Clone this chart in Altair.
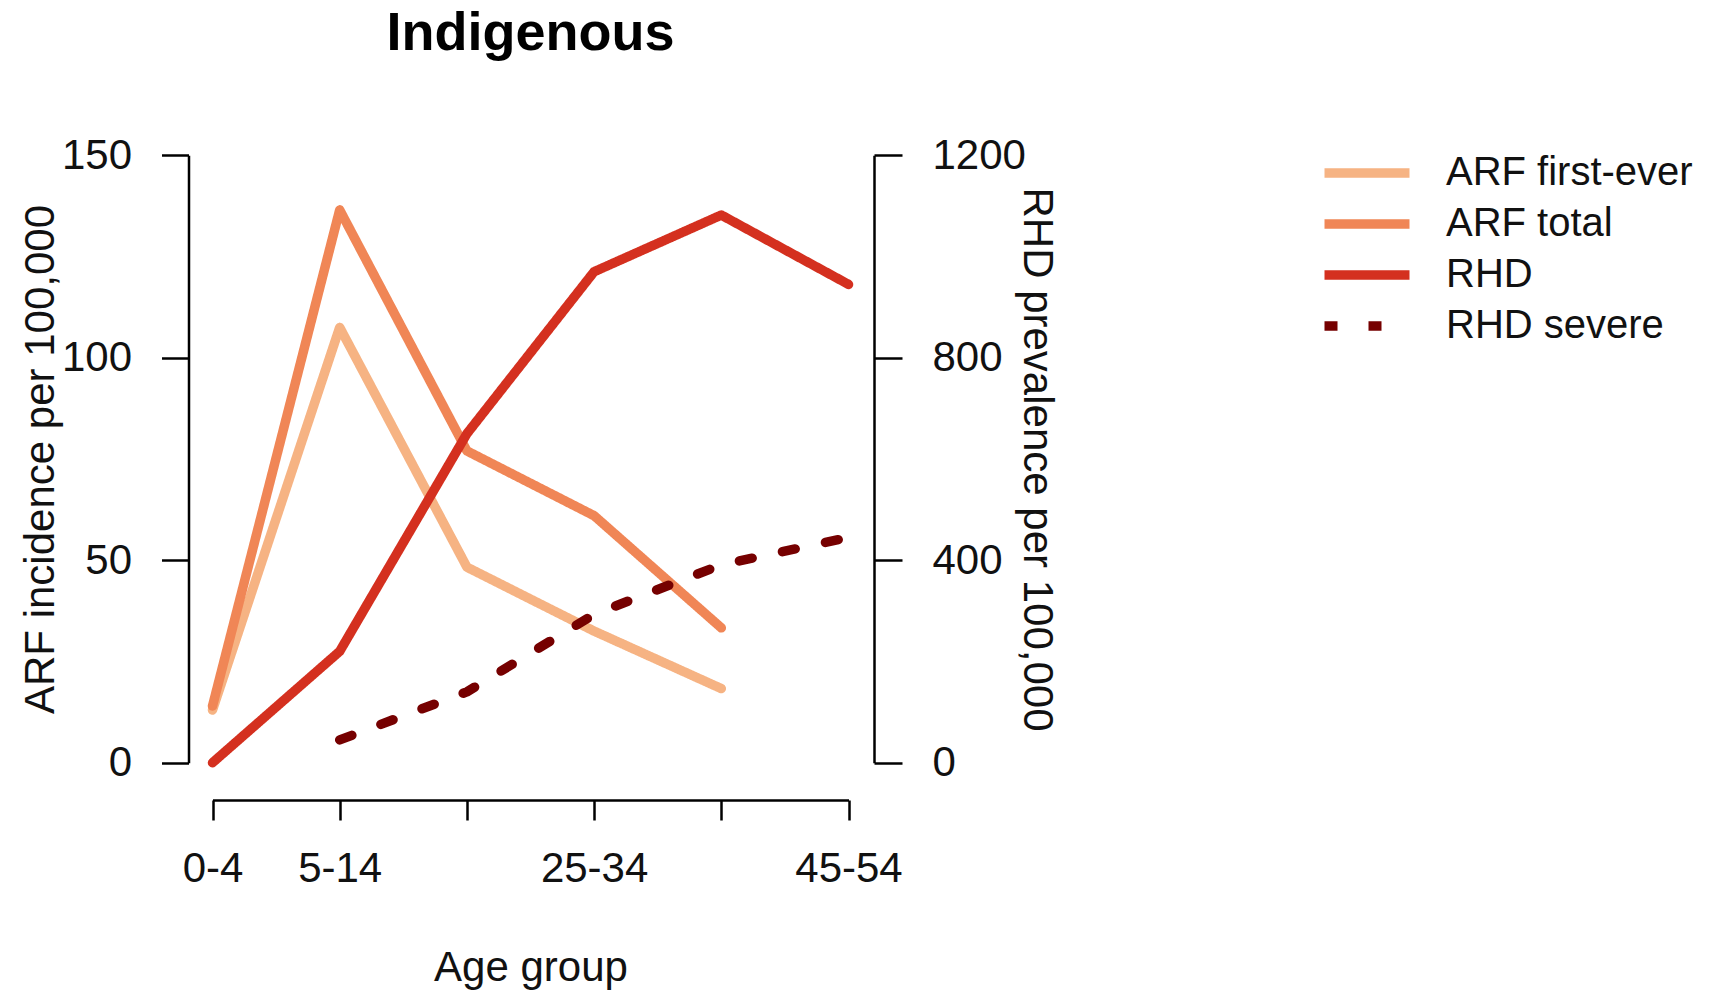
import json
import altair as alt
import pandas as pd

# ---- data ----
age_groups = ["0-4", "5-14", "15-24", "25-34", "35-44", "45-54"]
tick_labels = ["0-4", "5-14", "", "25-34", "", "45-54"]
arf_first_ever = [13, 107.5, 48.3, 32.5, 18.3, None]
arf_total = [14, 136.5, 77, 61, 33.3, None]
rhd = [0, 220, 650, 970, 1082, 945]
rhd_severe = [None, 45, 140, 293, 391, 445]

series_names = ["ARF first-ever", "ARF total", "RHD", "RHD severe"]
series_colors = ["#F6B383", "#F08656", "#D4301F", "#760000"]
series_dash = [[1, 0], [1, 0], [1, 0], [13, 31]]

left_ticks = [0, 50, 100, 150]
right_ticks = [0, 400, 800, 1200]

rows = []
for name, vals in zip(series_names, [arf_first_ever, arf_total, rhd, rhd_severe]):
    for i, (age, v) in enumerate(zip(age_groups, vals)):
        rows.append({"idx": i + 1, "age": age, "series": name, "value": v})
df = pd.DataFrame(rows)
left_df = df[df["series"].isin(series_names[:2])]
right_df = df[df["series"].isin(series_names[2:])]

FONT = "Liberation Sans"
W, H = 687, 656
X_RANGE = [25.5, 661.5]
Y_RANGE = [631.7, 24.3]
LW = 9.5

x_axis = alt.Axis(
    values=list(range(1, len(age_groups) + 1)),
    labelExpr=f"{json.dumps(tick_labels)}[datum.value - 1]",
    title="Age group",
    titlePadding=58,
    labelPadding=28,
    tickSize=20,
    offset=13,
    labelFlush=False,
    labelOverlap=False,
    grid=False,
)
x_enc = alt.X("idx:Q", scale=alt.Scale(domain=[1, len(age_groups)], range=X_RANGE), axis=x_axis)

color_enc = alt.Color(
    "series:N",
    scale=alt.Scale(domain=series_names, range=series_colors),
    legend=alt.Legend(
        title=None,
        orient="none",
        legendX=1150,
        legendY=12,
        symbolType="M-1.7,0H1.7",
        symbolSize=2500,
        symbolStrokeWidth=LW,
        labelFontSize=40,
        labelFont=FONT,
        labelColor="#111111",
        labelOffset=49,
        labelLimit=500,
        rowPadding=1,
        padding=0,
    ),
)
dash_enc = alt.StrokeDash(
    "series:N",
    scale=alt.Scale(domain=series_names, range=series_dash),
    legend=alt.Legend(title=None),
)

line_mark = dict(strokeWidth=LW, strokeCap="round", strokeJoin="round")

left = alt.Chart(left_df).mark_line(**line_mark).encode(
    x=x_enc,
    y=alt.Y(
        "value:Q",
        scale=alt.Scale(domain=[0, 150], range=Y_RANGE, nice=False, zero=False),
        axis=alt.Axis(
            values=left_ticks,
            format="d",
            orient="left",
            title="ARF incidence per 100,000",
            titlePadding=-1,
            labelPadding=30,
            tickSize=27,
            offset=-1.5,
            grid=False,
            labelFlush=False,
        ),
    ),
    color=color_enc,
    strokeDash=dash_enc,
    order=alt.Order("idx:Q"),
)

right = alt.Chart(right_df).mark_line(**line_mark).encode(
    x=x_enc,
    y=alt.Y(
        "value:Q",
        scale=alt.Scale(domain=[0, 1200], range=Y_RANGE, nice=False, zero=False),
        axis=alt.Axis(
            values=right_ticks,
            format="d",
            orient="right",
            title="RHD prevalence per 100,000",
            titlePadding=-11,
            labelPadding=30,
            tickSize=28,
            grid=False,
            labelFlush=False,
        ),
    ),
    color=color_enc,
    strokeDash=dash_enc,
    order=alt.Order("idx:Q"),
)

chart = (
    alt.layer(left, right)
    .resolve_scale(y="independent")
    .properties(
        width=W,
        height=H,
        background="white",
        autosize=alt.AutoSizeParams(type="none"),
        padding={"left": 187, "top": 131, "right": 1723 - 187 - W, "bottom": 992 - 131 - H},
        title=alt.TitleParams(
            "Indigenous",
            font=FONT,
            fontSize=54,
            fontWeight="bold",
            color="#000000",
            anchor="middle",
            frame="group",
            offset=70,
        ),
    )
    .configure_view(stroke="transparent", strokeWidth=0)
    .configure_axis(
        labelFont=FONT,
        labelFontSize=42,
        labelColor="#111111",
        titleFont=FONT,
        titleFontSize=42,
        titleFontWeight="normal",
        titleColor="#111111",
        domainColor="#000000",
        domainWidth=2.5,
        tickColor="#000000",
        tickWidth=2.5,
    )
)

chart.save("out.html", embed_options={"renderer": "svg", "actions": False})
